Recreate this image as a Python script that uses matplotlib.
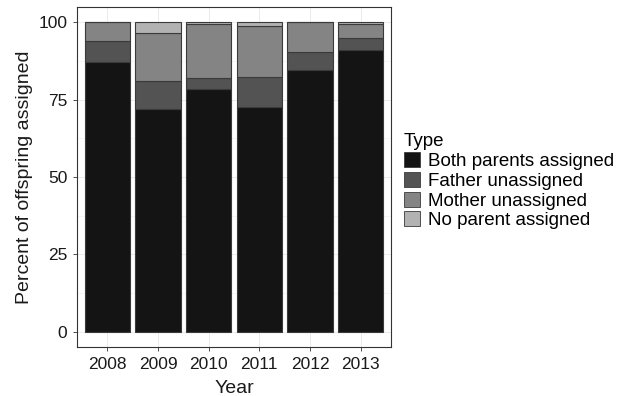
import matplotlib
matplotlib.use("Agg")
import matplotlib.pyplot as plt
from matplotlib.patches import Patch
import numpy as np

plt.rcParams['font.family'] = ['Liberation Sans', 'DejaVu Sans']

years = ["2008", "2009", "2010", "2011", "2012", "2013"]
types = ["Both parents assigned", "Father unassigned", "Mother unassigned", "No parent assigned"]
both = [87.3, 71.9, 78.6, 72.7, 84.7, 91.2]
father = [6.7, 9.3, 3.5, 9.6, 5.6, 3.8]
mother = [6.0, 15.3, 17.3, 16.6, 9.7, 4.4]
none_ = [0.0, 3.5, 0.6, 1.1, 0.0, 0.6]
colors = ["#141414", "#535353", "#848484", "#b2b2b2"]

fig = plt.figure(figsize=(6.27, 3.96), dpi=100)
ax = fig.add_axes([77/627, 1-347/396, (391-77)/627, (347-7)/396])

x = np.arange(len(years))
bottom = np.zeros(len(years))
for series, col in zip([both, father, mother, none_], colors):
    vals = np.array(series)
    ax.bar(x, vals, width=0.9, bottom=bottom, color=col,
           edgecolor="#3a3a3a", linewidth=0.8, zorder=3)
    bottom += vals

ax.set_xlim(-0.6, len(years) - 0.4)
ax.set_ylim(-5, 105)
ax.set_xticks(x)
ax.set_xticklabels(years)
ax.set_yticks([0, 25, 50, 75, 100])
ax.set_yticks([12.5, 37.5, 62.5, 87.5], minor=True)
ax.grid(True, which="major", color="#ebebeb", linewidth=0.7, zorder=0)
ax.grid(True, which="minor", axis="y", color="#f2f2f2", linewidth=0.5, zorder=0)
ax.tick_params(axis="y", which="minor", length=0)
for s in ax.spines.values():
    s.set_color("#333333")
    s.set_linewidth(0.8)
ax.tick_params(axis="both", which="major", labelsize=12.5, colors="#333333",
               length=3, width=0.6, labelcolor="#1a1a1a", pad=4)
ax.set_xlabel("Year", fontsize=14, color="#1a1a1a", labelpad=6)
ax.set_ylabel("Percent of offspring assigned", fontsize=14, color="#1a1a1a", labelpad=4)

handles = [Patch(facecolor=c, edgecolor="#3a3a3a", linewidth=0.6) for c in colors]
leg = fig.legend(handles, types, title="Type", loc="upper left",
                 bbox_to_anchor=(404/627, 1-133/396), frameon=False,
                 fontsize=13.5, title_fontsize=13.5, handlelength=0.85, handleheight=0.85,
                 handletextpad=0.45, labelspacing=0.1, alignment="left",
                 borderaxespad=0, borderpad=0)

fig.savefig("out.png", dpi=100, facecolor="white")
